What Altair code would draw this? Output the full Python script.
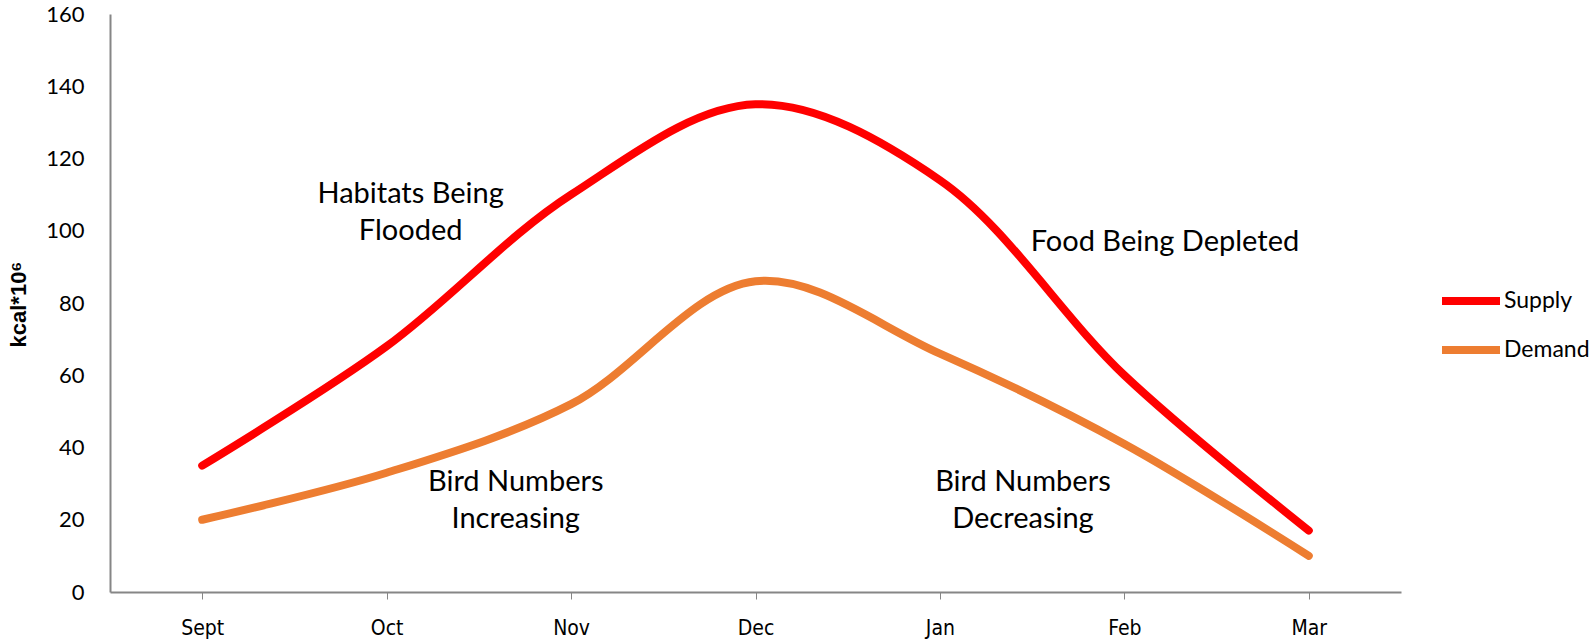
import altair as alt
import pandas as pd

months = ["Sept", "Oct", "Nov", "Dec", "Jan", "Feb", "Mar"]
supply = [35, 68, 110, 135, 114, 60, 17]
demand = [20, 33, 52, 86, 66, 41, 10]

notes = ["Habitats Being\nFlooded", "Bird Numbers\n Increasing", "Food Being Depleted", "Bird Numbers\nDecreasing"]
note_x = [1.13, 1.70, 5.22, 4.45]
note_y = [110.2, 30.4, 96.9, 30.4]

rows = []
for i, m in enumerate(months):
    rows.append({"idx": i, "month": m, "series": "Supply", "val": supply[i]})
for i, m in enumerate(months):
    rows.append({"idx": i, "month": m, "series": "Demand", "val": demand[i]})
df = pd.DataFrame(rows)
notes_df = pd.DataFrame({"idx": note_x, "val": note_y, "label": notes})

label_expr = "[" + ",".join("'%s'" % m for m in months) + "][datum.value]"

x_enc = alt.X("idx:Q", scale=alt.Scale(domain=[-0.5, 6.5], nice=False, zero=False),
              axis=alt.Axis(values=list(range(len(months))), labelExpr=label_expr, title=None,
                            grid=False, domainColor="#868686", domainWidth=2, tickColor="#868686",
                            tickSize=7, tickWidth=1, labelPadding=18, labelFontSize=21,
                            labelFont="DejaVu Sans Condensed", labelColor="#000000"))
y_scale = alt.Scale(domain=[0, 160], nice=False)
y_axis = alt.Axis(values=list(range(0, 161, 20)), grid=False, ticks=False, domainColor="#868686",
                  domainWidth=2, labelPadding=26, labelFontSize=22, labelFont="Lato",
                  labelColor="#000000", title="kcal*10⁶", titleFont="Liberation Sans",
                  titleFontSize=22, titleFontWeight="bold", titleColor="#000000",
                  titleX=-92, titleY=290, titleAngle=-90, titleAlign="center", titleBaseline="middle")

lines = alt.Chart(df).mark_line(interpolate="catmull-rom", strokeWidth=8, strokeCap="round",
                                strokeJoin="round").encode(
    x=x_enc,
    y=alt.Y("val:Q", scale=y_scale, axis=y_axis),
    color=alt.Color("series:N", sort=["Supply", "Demand"],
                    scale=alt.Scale(domain=["Supply", "Demand"], range=["#FF0000", "#ED7D31"]),
                    legend=alt.Legend(title=None, orient="none", legendX=1328, legendY=254,
                                      symbolType="stroke", symbolSize=3364, symbolStrokeWidth=8,
                                      labelFontSize=23, labelFont="Lato", labelColor="#000000",
                                      labelOffset=0, rowPadding=0)),
    detail="series:N",
)

texts = alt.Chart(notes_df).mark_text(fontSize=29, font="Lato", color="#000000", lineBreak="\n",
                                      align="center", baseline="middle", lineHeight=37).encode(
    x=alt.X("idx:Q"),
    y=alt.Y("val:Q"),
    text="label:N",
)

chart = alt.layer(lines, texts).properties(
    width=1291, height=578,
    autosize=alt.AutoSizeParams(type="none"),
    padding={"left": 110, "top": 14, "right": 191, "bottom": 51},
).configure_view(stroke=None)

chart.save("out.html", embed_options={"renderer": "svg", "actions": False})
